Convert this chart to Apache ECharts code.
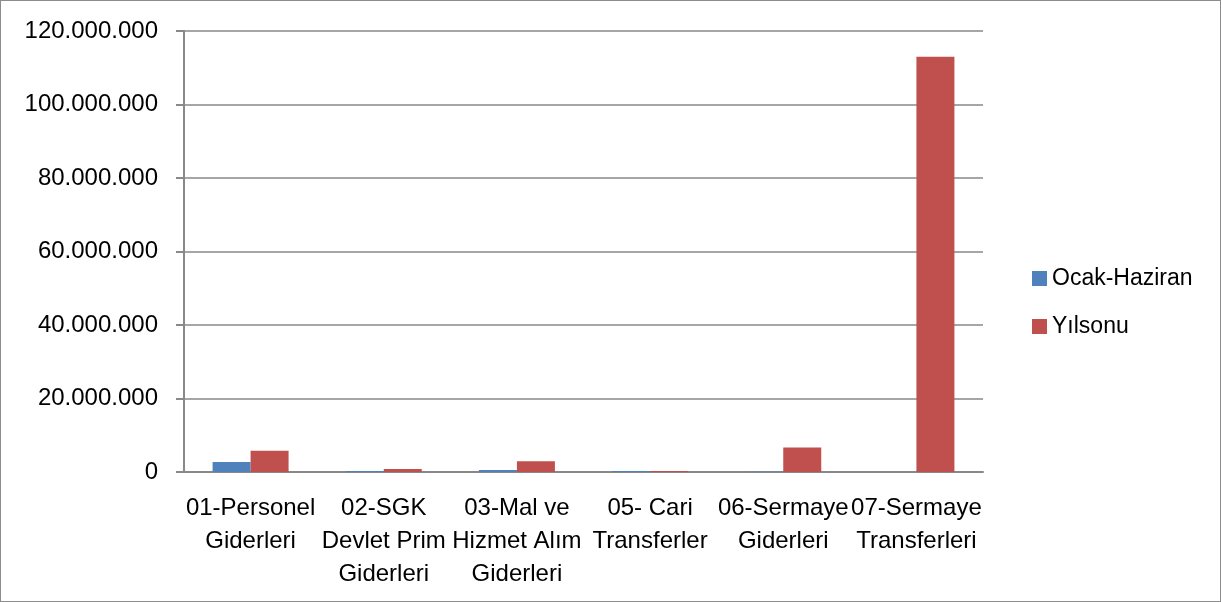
<!DOCTYPE html>
<html>
<head>
<meta charset="utf-8">
<script src="https://cdn.jsdelivr.net/npm/echarts@6/dist/echarts.min.js"></script>
<style>
  html, body { margin: 0; padding: 0; background: #fff; }
  #chart { width: 1221px; height: 602px; box-sizing: border-box; border: 1px solid #8c8c8c; }
</style>
</head>
<body>
<div id="chart"></div>
<script>
  // kategoriler ve seriler
  const categories = [
    '01-Personel\nGiderleri',
    '02-SGK\nDevlet Prim\nGiderleri',
    '03-Mal ve\nHizmet Alım\nGiderleri',
    '05- Cari\nTransferler',
    '06-Sermaye\nGiderleri',
    '07-Sermaye\nTransferleri'
  ];
  const ocakHaziran = [2700000, 300000, 550000, 300000, 50000, 0];
  const yilsonu = [5800000, 800000, 2900000, 300000, 6700000, 113000000];
  const yTicks = [0, 20000000, 40000000, 60000000, 80000000, 100000000, 120000000];

  const fmt = v => String(v).replace(/\B(?=(\d{3})+(?!\d))/g, '.');
  const font = 'Liberation Sans, Arial, sans-serif';

  const chart = echarts.init(document.getElementById('chart'));
  chart.setOption({
    animation: false,
    grid: { left: 183, right: 237, top: 30, bottom: 129 },
    legend: {
      orient: 'vertical',
      left: 1026,
      top: 261,
      itemWidth: 15,
      itemHeight: 15,
      itemGap: 25,
      icon: 'rect',
      textStyle: { fontFamily: font, fontSize: 23, color: '#000' },
      data: ['Ocak-Haziran', 'Yılsonu']
    },
    xAxis: {
      type: 'category',
      data: categories,
      axisLine: { lineStyle: { color: '#898989', width: 2 } },
      axisTick: { length: 9, lineStyle: { color: '#898989', width: 2 } },
      axisLabel: {
        interval: 0,
        margin: 20,
        lineHeight: 33,
        fontFamily: font,
        fontSize: 24,
        color: '#000'
      }
    },
    yAxis: {
      type: 'value',
      min: yTicks[0],
      max: yTicks[yTicks.length - 1],
      interval: 20000000,
      axisLine: { show: true, lineStyle: { color: '#898989', width: 2 } },
      axisTick: { show: true, length: 8, lineStyle: { color: '#898989', width: 2 } },
      splitLine: { lineStyle: { color: '#898989', width: 1.5 } },
      axisLabel: {
        margin: 26,
        fontFamily: font,
        fontSize: 24,
        color: '#000',
        formatter: fmt
      }
    },
    series: [
      {
        name: 'Ocak-Haziran',
        type: 'bar',
        data: ocakHaziran,
        barWidth: 38,
        barGap: '0%',
        itemStyle: { color: '#4F81BD' }
      },
      {
        name: 'Yılsonu',
        type: 'bar',
        data: yilsonu,
        barWidth: 38,
        barGap: '0%',
        itemStyle: { color: '#C0504D' }
      }
    ]
  });
</script>
</body>
</html>
